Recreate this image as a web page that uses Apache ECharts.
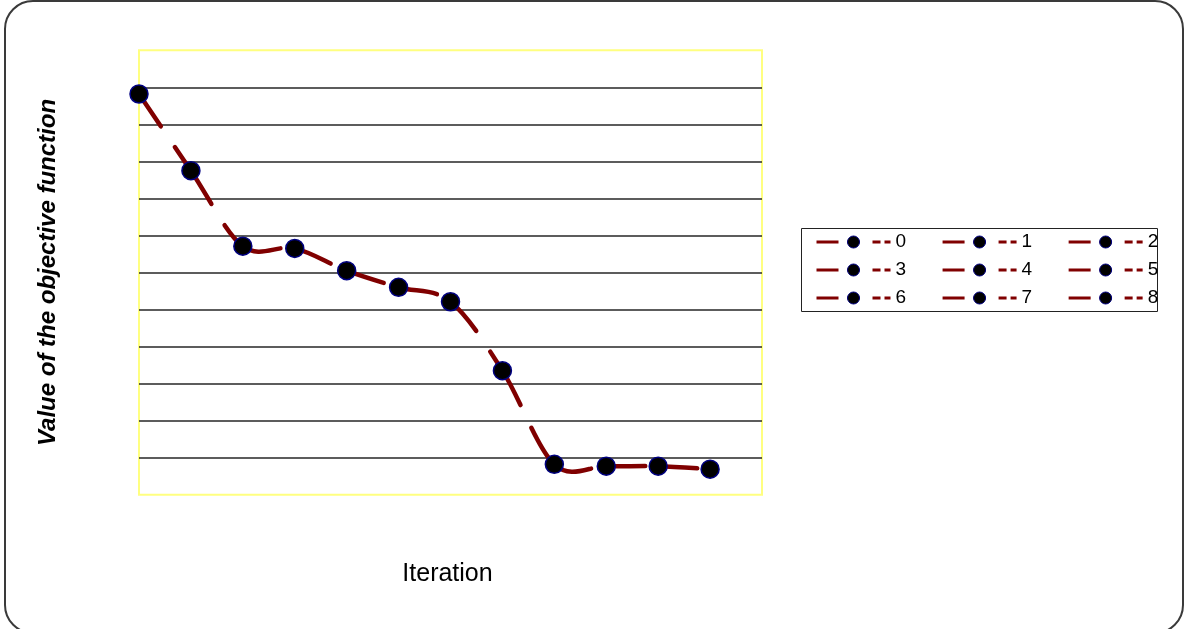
<!DOCTYPE html>
<html>
<head>
<meta charset="utf-8">
<title>Value of the objective function by iteration</title>
<script src="https://cdn.jsdelivr.net/npm/echarts@6/dist/echarts.min.js"></script>
<style>
  html, body { margin: 0; padding: 0; background: #ffffff; }
  #chart { width: 1184px; height: 629px; }
</style>
</head>
<body>
<div id="chart"></div>
<script>
// Iteration index and objective value at each iteration
const iterations = [0, 1, 2, 3, 4, 5, 6, 7, 8, 9, 10, 11];
const objective = [10.82, 8.75, 6.71, 6.65, 6.05, 5.60, 5.21, 3.35, 0.82, 0.77, 0.77, 0.69];

// Legend entries (3 rows of 3)
const legendNames = ['0', '1', '2', '3', '4', '5', '6', '7', '8'];
const legendRows = [legendNames.slice(0, 3), legendNames.slice(3, 6), legendNames.slice(6, 9)];

const LINE_COLOR = '#800000';
const MARKER_FILL = '#000000';
const MARKER_EDGE = '#000080';
const LINE_DASH = [39, 25];

const points = iterations.map((x, k) => [x, objective[k]]);

// One smoothed segment per point (cardinal spline, tangent = (next - prev) / 6);
// each segment starts its own dash pattern at its left point.
function renderSegment(params, api) {
  const i = params.dataIndex;
  const n = points.length;
  if (i >= n - 1) return null;
  const p0 = api.coord(points[Math.max(i - 1, 0)]);
  const p1 = api.coord(points[i]);
  const p2 = api.coord(points[i + 1]);
  const p3 = api.coord(points[Math.min(i + 2, n - 1)]);
  return {
    type: 'bezierCurve',
    shape: {
      x1: p1[0], y1: p1[1],
      cpx1: p1[0] + (p2[0] - p0[0]) / 6,
      cpy1: p1[1] + (p2[1] - p0[1]) / 6,
      cpx2: p2[0] - (p3[0] - p1[0]) / 6,
      cpy2: p2[1] - (p3[1] - p1[1]) / 6,
      x2: p2[0], y2: p2[1]
    },
    style: { fill: null, stroke: LINE_COLOR, lineWidth: 4.5, lineDash: LINE_DASH, lineCap: 'round' },
    silent: true
  };
}

const chart = echarts.init(document.getElementById('chart'), null, { renderer: 'canvas' });

// Marker series: one per legend entry, only the first carries the data.
const markerSeries = {
  type: 'line',
  symbol: 'circle',
  symbolSize: 18,
  showSymbol: true,
  z: 3,
  lineStyle: { color: LINE_COLOR, width: 4.5, type: LINE_DASH, opacity: 0 },
  itemStyle: { color: MARKER_FILL, borderColor: MARKER_EDGE, borderWidth: 1.5 },
  emphasis: { disabled: true },
  animation: false
};

const series = legendNames.map((name, i) => Object.assign({}, markerSeries, {
  name: name,
  data: i === 0 ? points : []
})).concat([
  {
    name: 'objective curve',
    type: 'custom',
    z: 2,
    data: points,
    renderItem: renderSegment,
    animation: false
  }
]);

const rowTops = [232, 260, 288];
const legends = legendRows.map((row, r) => ({
  data: row,
  orient: 'horizontal',
  left: 815,
  top: rowTops[r],
  padding: 0,
  itemWidth: 74,
  itemHeight: 15,
  itemGap: 35,
  selectedMode: false,
  lineStyle: { color: LINE_COLOR, width: 3, type: [22, 9, 12, 13, 8, 4, 8, 40], opacity: 1 },
  itemStyle: { color: MARKER_FILL, borderColor: MARKER_EDGE, borderWidth: 1 },
  textStyle: { fontFamily: '"Liberation Sans Narrow", "Liberation Sans", Arial, sans-serif', fontSize: 19, lineHeight: 20, color: '#000000' }
}));

chart.setOption({
  backgroundColor: '#ffffff',
  animation: false,
  graphic: [
    {
      type: 'rect',
      z: -10,
      shape: { x: 5, y: 1, width: 1178, height: 632, r: 28 },
      style: { fill: '#ffffff', stroke: '#3a3a3a', lineWidth: 2 },
      silent: true
    },
    {
      type: 'rect',
      z: 1,
      shape: { x: 801.5, y: 228.5, width: 356, height: 83 },
      style: { fill: '#ffffff', stroke: '#222222', lineWidth: 1 },
      silent: true
    }
  ],
  legend: legends,
  grid: {
    left: 139,
    top: 50.3,
    width: 623,
    height: 444.4,
    show: true,
    backgroundColor: '#ffffff',
    borderColor: '#ffff80',
    borderWidth: 2
  },
  xAxis: {
    type: 'value',
    min: 0,
    max: 12,
    interval: 1,
    name: 'Iteration',
    nameLocation: 'middle',
    nameGap: 67,
    nameTextStyle: { fontFamily: '"Liberation Sans", Arial, sans-serif', fontSize: 25, color: '#000000', padding: [0, 6, 0, 0] },
    axisLine: { show: false },
    axisTick: { show: false },
    axisLabel: { show: false },
    splitLine: { show: false }
  },
  yAxis: {
    type: 'value',
    min: 0,
    max: 12,
    interval: 1,
    name: 'Value of the objective function',
    nameLocation: 'middle',
    nameRotate: 90,
    nameGap: 79,
    nameTextStyle: { fontFamily: '"Liberation Sans", Arial, sans-serif', fontSize: 24, fontWeight: 'bold', fontStyle: 'italic', color: '#000000' },
    axisLine: { show: false },
    axisTick: { show: false },
    axisLabel: { show: false },
    splitLine: {
      show: true,
      showMinLine: false,
      showMaxLine: false,
      lineStyle: { color: '#262626', width: 1.5 }
    }
  },
  series: series
});
</script>
</body>
</html>
